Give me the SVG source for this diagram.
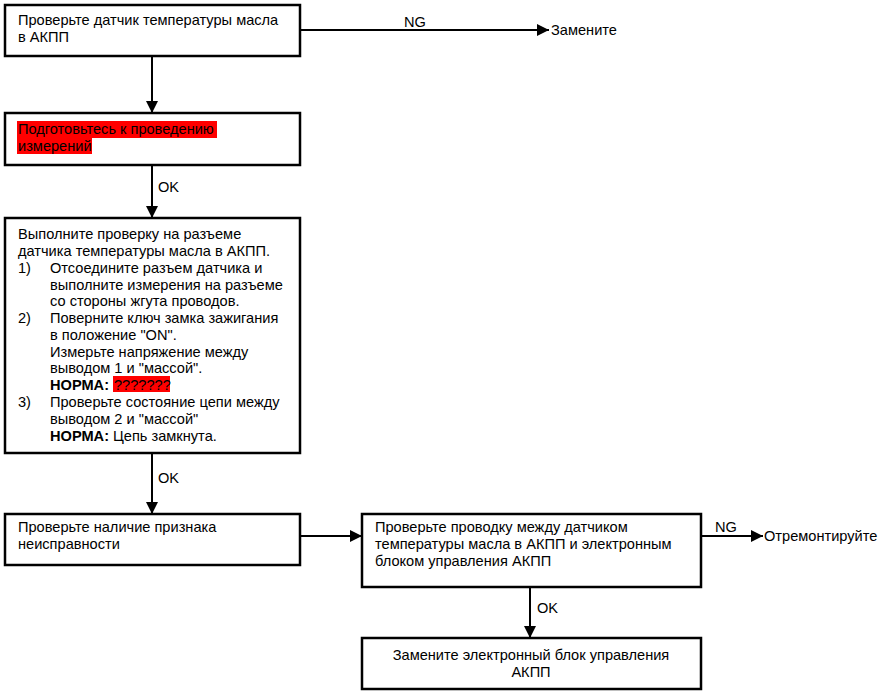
<svg xmlns="http://www.w3.org/2000/svg" width="881" height="696" viewBox="0 0 881 696">
<defs>
<marker id="ah" markerWidth="12" markerHeight="12" refX="12" refY="6" orient="auto" markerUnits="userSpaceOnUse">
<path d="M0,0 L12,6 L0,12 Z" fill="#000"/>
</marker>
</defs>
<style>
.box{fill:#fff;stroke:#000;stroke-width:2.5}
.t{font-family:"Liberation Sans",Arial,sans-serif;font-size:14.6px;fill:#000}
.b{font-weight:bold}
.c{stroke:#000;stroke-width:2;fill:none;marker-end:url(#ah)}
.hl{fill:#ff0000}
</style>
<rect width="881" height="696" fill="#fff"/>
<g id="connectors">
<line class="c" x1="301" y1="30" x2="549" y2="30"/>
<line class="c" x1="152" y1="56" x2="152" y2="113"/>
<line class="c" x1="152" y1="165" x2="152" y2="218"/>
<line class="c" x1="152" y1="453" x2="152" y2="514"/>
<line class="c" x1="300" y1="536" x2="362" y2="536"/>
<line class="c" x1="701" y1="536" x2="763" y2="536"/>
<line class="c" x1="530" y1="587" x2="530" y2="638"/>
<text class="t" x="404" y="27">NG</text>
<text class="t" x="158" y="192">OK</text>
<text class="t" x="158" y="483">OK</text>
<text class="t" x="715" y="532">NG</text>
<text class="t" x="537" y="613">OK</text>
<text class="t" x="551" y="35">Замените</text>
<text class="t" x="764" y="541">Отремонтируйте</text>
</g>
<g id="n1">
<rect class="box" x="5" y="5" width="295" height="51"/>
<text class="t" x="18" y="25">Проверьте датчик температуры масла</text>
<text class="t" x="18" y="42">в АКПП</text>
</g>
<g id="n2">
<rect class="box" x="5" y="113" width="295" height="52"/>
<rect class="hl" x="17" y="121" width="200" height="17"/>
<rect class="hl" x="17" y="138" width="75" height="16"/>
<text class="t" x="18" y="134">Подготовьтесь к проведению</text>
<text class="t" x="18" y="151">измерений</text>
</g>
<g id="n3">
<rect class="box" x="5" y="218" width="295" height="235"/>
<rect class="hl" x="113" y="376" width="57" height="16"/>
<text class="t" x="18" y="239">Выполните проверку на разъеме</text>
<text class="t" x="18" y="256">датчика температуры масла в АКПП.</text>
<text class="t" x="18" y="273">1)</text>
<text class="t" x="50" y="273">Отсоедините разъем датчика и</text>
<text class="t" x="50" y="290">выполните измерения на разъеме</text>
<text class="t" x="50" y="306">со стороны жгута проводов.</text>
<text class="t" x="18" y="323">2)</text>
<text class="t" x="50" y="323">Поверните ключ замка зажигания</text>
<text class="t" x="50" y="340">в положение "ON".</text>
<text class="t" x="50" y="357">Измерьте напряжение между</text>
<text class="t" x="50" y="373">выводом 1 и "массой".</text>
<text class="t b" x="50" y="390">НОРМА:</text>
<text class="t" x="114" y="390">???????</text>
<text class="t" x="18" y="407">3)</text>
<text class="t" x="50" y="407">Проверьте состояние цепи между</text>
<text class="t" x="50" y="424">выводом 2 и "массой"</text>
<text class="t" x="50" y="441"><tspan class="b">НОРМА:</tspan> Цепь замкнута.</text>
</g>
<g id="n4">
<rect class="box" x="5" y="514" width="295" height="51"/>
<text class="t" x="18" y="532">Проверьте наличие признака</text>
<text class="t" x="18" y="549">неисправности</text>
</g>
<g id="n5">
<rect class="box" x="362" y="514" width="339" height="73"/>
<text class="t" x="375" y="532">Проверьте проводку между датчиком</text>
<text class="t" x="375" y="549">температуры масла в АКПП и электронным</text>
<text class="t" x="375" y="566">блоком управления АКПП</text>
</g>
<g id="n6">
<rect class="box" x="362" y="638" width="339" height="51"/>
<text class="t" x="531" y="660" text-anchor="middle">Замените электронный блок управления</text>
<text class="t" x="531" y="677" text-anchor="middle">АКПП</text>
</g>
</svg>
